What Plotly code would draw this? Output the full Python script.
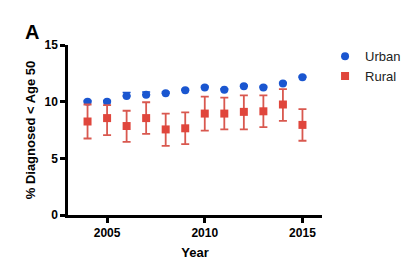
import plotly.graph_objects as go

years = [2004, 2005, 2006, 2007, 2008, 2009, 2010, 2011, 2012, 2013, 2014, 2015]
urban = [10.0, 10.0, 10.5, 10.6, 10.75, 11.0, 11.25, 11.05, 11.35, 11.25, 11.6, 12.15]
urban_err = [0.1, 0.1, 0.3, 0.25, 0.1, 0.1, 0.1, 0.1, 0.1, 0.1, 0.1, 0.1]
rural = [8.25, 8.55, 7.85, 8.55, 7.55, 7.65, 8.95, 8.95, 9.1, 9.15, 9.75, 7.95]
rural_up = [1.5, 1.15, 1.35, 1.4, 1.4, 1.4, 1.5, 1.4, 1.45, 1.4, 1.35, 1.4]
rural_dn = [1.5, 1.5, 1.4, 1.4, 1.45, 1.4, 1.5, 1.4, 1.55, 1.4, 1.45, 1.4]

FONT = "Liberation Sans, Arial, sans-serif"
BLUE = "#1a56d0"
RED = "#e0463c"

fig = go.Figure()
fig.add_trace(go.Scatter(
    x=years, y=urban, mode="markers", name="Urban",
    marker=dict(symbol="circle", size=8, color=BLUE),
    error_y=dict(type="data", array=urban_err, arrayminus=[0]*len(urban_err),
                 color=BLUE, thickness=1.5, width=4),
))
fig.add_trace(go.Scatter(
    x=years, y=rural, mode="markers", name="Rural",
    marker=dict(symbol="square", size=8, color=RED),
    error_y=dict(type="data", array=rural_up, arrayminus=rural_dn, color="#d9584f", thickness=1.8, width=4),
))

fig.update_layout(
    width=420, height=276,
    margin=dict(l=68, r=98, t=45, b=61),
    paper_bgcolor="white", plot_bgcolor="white",
    font=dict(family=FONT, color="black"),
    showlegend=True,
    legend=dict(x=1.012, y=1.022, xanchor="left", yanchor="top",
                font=dict(size=13, family=FONT, color="#222"),
                bgcolor="rgba(0,0,0,0)", tracegroupgap=0),
    annotations=[dict(text="<b>A</b>", x=-0.142, y=1.076, xref="paper", yref="paper",
                      xanchor="center", yanchor="middle",
                      showarrow=False, font=dict(size=20, family=FONT))],
)

fig.update_xaxes(
    range=[2003.0, 2016.0], tickvals=[2005, 2010, 2015], ticktext=["2005", "2010", "2015"],
    showline=True, linecolor="black", linewidth=2.5, ticks="outside", ticklen=5,
    tickwidth=2.5, tickcolor="black", showgrid=False, zeroline=False,
    tickfont=dict(size=12, family=FONT, weight="bold"),
    title=dict(text="<b>Year</b>", font=dict(size=13, family=FONT), standoff=9),
)
fig.update_yaxes(
    range=[0, 15], tickvals=[0, 5, 10, 15],
    showline=True, linecolor="black", linewidth=2.5, ticks="outside", ticklen=5,
    tickwidth=2.5, tickcolor="black", showgrid=False, zeroline=False,
    tickfont=dict(size=12, family=FONT, weight="bold"),
    title=dict(text="<b>% Diagnosed < Age 50</b>", font=dict(size=13, family=FONT), standoff=6),
)

fig.write_html("out.html")
